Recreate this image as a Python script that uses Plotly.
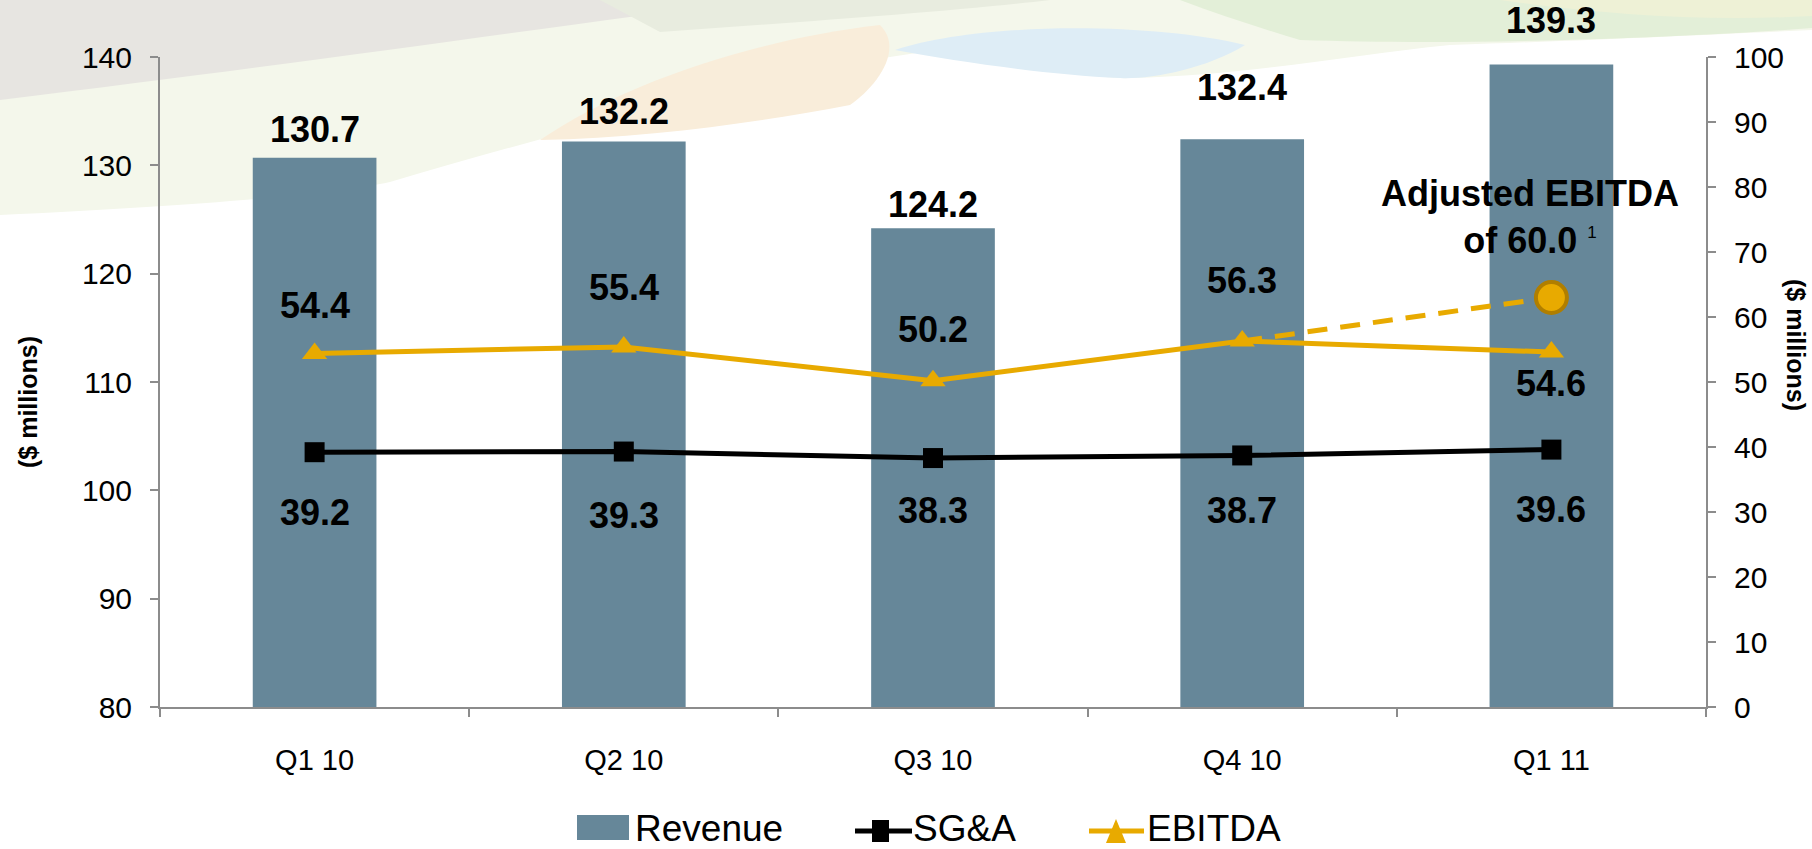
import plotly.graph_objects as go

# ---------------- data ----------------
categories = ["Q1 10", "Q2 10", "Q3 10", "Q4 10", "Q1 11"]
revenue = [130.7, 132.2, 124.2, 132.4, 139.3]
sga = [39.2, 39.3, 38.3, 38.7, 39.6]
ebitda = [54.4, 55.4, 50.2, 56.3, 54.6]
adjusted_ebitda_value = 60.0      # value quoted in the callout
adjusted_ebitda_marker = 63.0     # where the callout marker sits on the right axis
left_ticks = [80, 90, 100, 110, 120, 130, 140]
right_ticks = [0, 10, 20, 30, 40, 50, 60, 70, 80, 90, 100]
legend_names = ["Revenue", "SG&A", "EBITDA"]

# ---------------- style ----------------
W_FIG, H_FIG = 1812, 849
M_L, M_R, M_T, M_B = 160, 106, 57, 142
PW = W_FIG - M_L - M_R
PH = H_FIG - M_T - M_B
BAR = "#668799"
GOLD = "#E8AA00"
GOLD_DARK = "#B07E00"
AXIS = "#8C8C8C"
FONT = "Liberation Sans, Arial, sans-serif"

rev_label_shift = [28, 30, 24, 52, 44]
ebitda_label_shift = [48, 59, 51, 61, -31]
sga_label_shift = [-60, -64, -52, -55, -60]


def px(x):
    return (x - M_L) / PW


def py(y):
    return (H_FIG - M_B - y) / PH


def path(cmds):
    out = []
    for c in cmds:
        if isinstance(c, str):
            out.append(c)
        else:
            out.append(f"{px(c[0]):.5f},{py(c[1]):.5f}")
    return " ".join(out)


fig = go.Figure()

fig.add_trace(go.Bar(
    x=categories, y=revenue, width=0.4, marker=dict(color=BAR, line=dict(width=0)),
    name=legend_names[0], yaxis="y", showlegend=False, hoverinfo="x+y",
))

fig.add_trace(go.Scatter(
    x=[categories[3], categories[4]], y=[ebitda[3], adjusted_ebitda_marker],
    mode="lines", line=dict(color=GOLD, width=5, dash="20px,13px"),
    yaxis="y2", showlegend=False, hoverinfo="skip",
))

fig.add_trace(go.Scatter(
    x=categories, y=ebitda, mode="lines+markers", name=legend_names[2],
    line=dict(color=GOLD, width=5),
    marker=dict(symbol="triangle-up", size=22, color=GOLD, line=dict(width=0)),
    yaxis="y2", showlegend=False,
))

fig.add_trace(go.Scatter(
    x=categories, y=sga, mode="lines+markers", name=legend_names[1],
    line=dict(color="black", width=5),
    marker=dict(symbol="square", size=20, color="black", line=dict(width=0)),
    yaxis="y2", showlegend=False,
))

fig.add_trace(go.Scatter(
    x=[categories[4]], y=[adjusted_ebitda_marker], mode="markers",
    marker=dict(symbol="circle", size=31, color=GOLD, line=dict(color=GOLD_DARK, width=4)),
    yaxis="y2", showlegend=False,
))

annotations = []
lab_font = dict(family=FONT, size=36, color="black", weight="bold")
for i, c in enumerate(categories):
    annotations.append(dict(x=c, y=revenue[i], xref="x", yref="y", text=f"{revenue[i]:.1f}",
                            showarrow=False, yshift=rev_label_shift[i], font=lab_font,
                            xanchor="center", yanchor="middle"))
    annotations.append(dict(x=c, y=ebitda[i], xref="x", yref="y2", text=f"{ebitda[i]:.1f}",
                            showarrow=False, yshift=ebitda_label_shift[i], font=lab_font,
                            xanchor="center", yanchor="middle"))
    annotations.append(dict(x=c, y=sga[i], xref="x", yref="y2", text=f"{sga[i]:.1f}",
                            showarrow=False, yshift=sga_label_shift[i], font=lab_font,
                            xanchor="center", yanchor="middle"))

annotations.append(dict(
    x=px(1530), y=py(217), xref="paper", yref="paper", showarrow=False,
    xanchor="center", yanchor="middle",
    text=f"Adjusted EBITDA<br>of {adjusted_ebitda_value:.1f} <sup><span style='font-size:17px;font-weight:normal'>1</span></sup>",
    align="center", font=lab_font,
))

title_font = dict(family=FONT, size=25, color="black", weight="bold")
annotations.append(dict(x=px(28), y=py(402), xref="paper", yref="paper", showarrow=False,
                        xanchor="center", yanchor="middle",
                        text="($ millions)", textangle=-90, font=title_font))
annotations.append(dict(x=px(1796), y=py(345), xref="paper", yref="paper", showarrow=False,
                        xanchor="center", yanchor="middle",
                        text="($ millions)", textangle=90, font=title_font))

leg_font = dict(family=FONT, size=37, color="black")
leg_y = 829
for name, xl in zip(legend_names, [633, 911, 1145]):
    annotations.append(dict(x=px(xl), y=py(leg_y), xref="paper", yref="paper", showarrow=False,
                            xanchor="left", yanchor="middle", text=name, font=leg_font))

shapes = []
def bg(cmds, color):
    shapes.append(dict(type="path", xref="paper", yref="paper", layer="below",
                       path=path(cmds), fillcolor=color, line=dict(width=0)))

# decorative background swooshes (faint pastel band along the top)
bg(["M", (0, 0), "L", (1812, 0), "L", (1812, 30),
    "C", (1700, 35), (1600, 40), (1450, 45),
    "C", (1350, 55), (1250, 75), (1130, 78),
    "C", (1100, 80), (1000, 60), (916, 53),
    "C", (800, 70), (600, 120), (390, 182),
    "C", (330, 195), (200, 205), (0, 215), "Z"], "#F4F7EB")
bg(["M", (540, 140), "C", (620, 85), (750, 40), (880, 25),
    "C", (905, 50), (875, 88), (850, 105),
    "C", (760, 122), (650, 138), (540, 140), "Z"], "#F9EDDA")
bg(["M", (895, 50), "C", (980, 22), (1150, 22), (1245, 45),
    "C", (1205, 70), (1145, 80), (1120, 78),
    "C", (1050, 75), (960, 62), (895, 50), "Z"], "#DEEDF6")
bg(["M", (1180, 0), "L", (1812, 0), "L", (1812, 28),
    "C", (1650, 40), (1450, 45), (1300, 40),
    "C", (1260, 28), (1220, 15), (1180, 0), "Z"], "#E3EFD8")
bg(["M", (1500, 0), "L", (1812, 0), "L", (1812, 16), "C", (1700, 22), (1600, 14), (1500, 0), "Z"], "#EEF1D6")
bg(["M", (0, 0), "L", (760, 0), "C", (560, 25), (330, 60), (0, 100), "Z"], "#E7E5E1")
bg(["M", (600, 0), "L", (1050, 0), "C", (950, 12), (800, 22), (660, 32), "Z"], "#E8ECDF")

# custom legend symbols
shapes.append(dict(type="rect", xref="paper", yref="paper", x0=px(577), x1=px(629),
                   y0=py(840), y1=py(815), fillcolor=BAR, line=dict(width=0)))
shapes.append(dict(type="line", xref="paper", yref="paper", x0=px(855), x1=px(912),
                   y0=py(831), y1=py(831), line=dict(color="black", width=5)))
shapes.append(dict(type="rect", xref="paper", yref="paper", x0=px(872), x1=px(889),
                   y0=py(842), y1=py(820), fillcolor="black", line=dict(width=0)))
shapes.append(dict(type="line", xref="paper", yref="paper", x0=px(1089), x1=px(1144),
                   y0=py(831), y1=py(831), line=dict(color=GOLD, width=5)))
shapes.append(dict(type="path", xref="paper", yref="paper",
                   path=path(["M", (1106, 843), "L", (1116, 819), "L", (1126, 843), "Z"]),
                   fillcolor=GOLD, line=dict(width=0)))

axis_common = dict(showline=True, linecolor=AXIS, linewidth=2, ticks="outside", ticklen=8,
                   tickwidth=2, tickcolor=AXIS, showgrid=False, zeroline=False)

fig.update_layout(
    width=W_FIG, height=H_FIG,
    margin=dict(l=M_L, r=M_R, t=M_T, b=M_B, pad=0),
    paper_bgcolor="white", plot_bgcolor="rgba(0,0,0,0)",
    showlegend=False, bargap=0.6,
    font=dict(family=FONT, color="black"),
    xaxis=dict(type="category", tickson="boundaries", tickfont=dict(family=FONT, size=29),
               ticklabelstandoff=26, **axis_common),
    yaxis=dict(range=[80, 140], tickvals=left_ticks, tickfont=dict(family=FONT, size=30),
               ticklabelstandoff=12, **axis_common),
    yaxis2=dict(range=[0, 100], tickvals=right_ticks, overlaying="y", side="right",
                tickfont=dict(family=FONT, size=30), ticklabelstandoff=12, **axis_common),
    annotations=annotations,
    shapes=shapes,
)

fig.write_html("out.html", config={"displayModeBar": False},
               post_script="document.body.style.margin='0';document.body.style.overflow='hidden';")
